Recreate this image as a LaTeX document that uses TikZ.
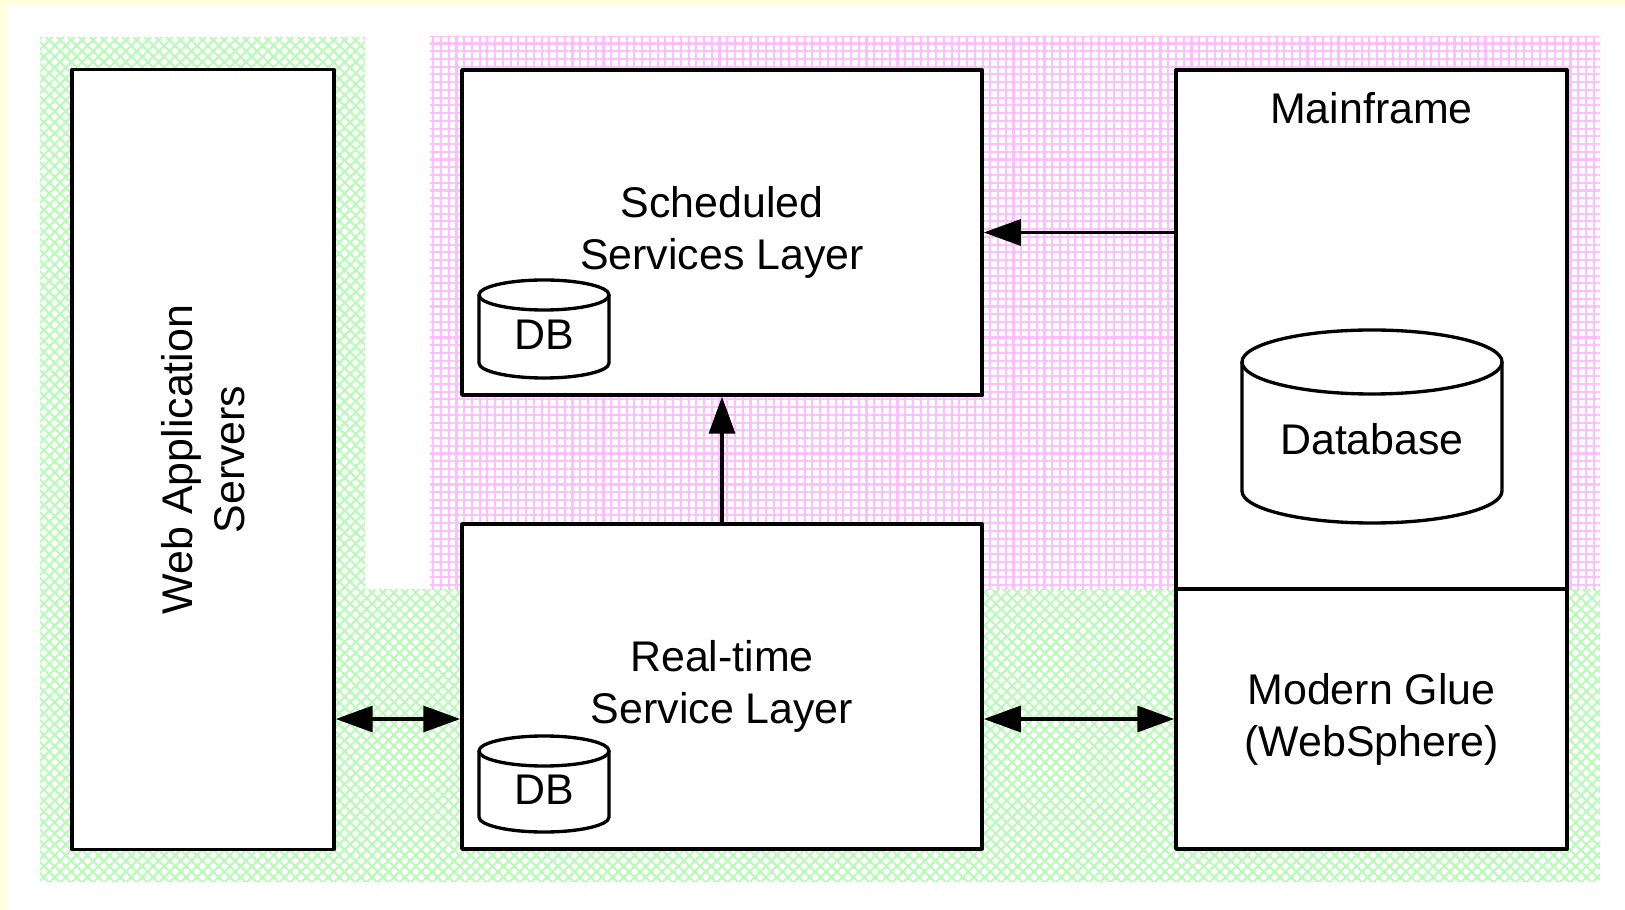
\documentclass[tikz,border=0pt]{standalone}
\usepackage{fontspec}
\setmainfont{Liberation Sans}
\usetikzlibrary{arrows.meta,patterns.meta,calc}
\definecolor{paleyellow}{RGB}{255,255,221}
\definecolor{hatchgreen}{RGB}{185,250,185}
\definecolor{gridpink}{RGB}{255,190,255}
\tikzset{
  tier/.style={draw,line width=0.95pt,fill=white,align=center,inner sep=0pt},
  link/.style={line width=0.9pt,-{Triangle[length=10.5pt,width=7.4pt]}},
  twoway/.style={line width=0.9pt,{Triangle[length=10.5pt,width=7.4pt]}-{Triangle[length=10.5pt,width=7.4pt]}},
}
\begin{document}
\begin{tikzpicture}[x=0.01cm,y=-0.01cm,line join=round,font=\fontsize{12.2}{14.8}\selectfont]
\useasboundingbox[fill=white] (0,0) rectangle (1625,910);
\fill[paleyellow] (0,0) rectangle (1625,5) (0,0) rectangle (8,910);
% zones
\path[pattern={Hatch[angle=45,distance=2.2pt,line width=0.6pt]},pattern color=hatchgreen]
(40,37)--(365,37)--(365,589)--(1600,589)--(1600,882)--(40,882)--cycle;
\path[pattern={Hatch[angle=0,distance=2.2pt,line width=0.6pt]},pattern color=gridpink]
(430,37) rectangle (1600,589);
% tiers
\node[tier,minimum width=2.62cm,minimum height=7.79cm] (web) at (203,459.5) {};
\node[rotate=90,align=center] (webtxt) at (web.center) {Web Application\\Servers};
\node[tier,minimum width=5.20cm,minimum height=3.25cm] (sched) at (722,232.5) {Scheduled\\Services Layer};
\node[tier,minimum width=5.20cm,minimum height=3.25cm] (rt) at (722,686.5) {Real-time\\Service Layer};
\node[tier,minimum width=3.91cm,minimum height=5.19cm] (main) at (1371.5,329.5) {};
\node (mftxt) at (1371.5,108) {Mainframe};
\node[tier,minimum width=3.91cm,minimum height=2.60cm] (glue) at (1371.5,719) {Modern Glue\\(WebSphere)};
% databases
\foreach \nm/\cx/\cy/\a/\h/\e/\dy/\txt in {dba/544/329/65/98/15/6/DB,dbb/544/784/65/96/15/6/DB,dbm/1372/426.5/130/193/32/13/Database}
{\filldraw[fill=white,line width=0.95pt]
 (\cx-\a,\cy-\h/2+\e)--(\cx-\a,\cy+\h/2-\e)
 arc[start angle=180,end angle=0,x radius=\a,y radius=\e]
 --(\cx+\a,\cy-\h/2+\e);
 \filldraw[fill=white,line width=0.95pt] (\cx,\cy-\h/2+\e) ellipse[x radius=\a,y radius=\e];
 \node (\nm) at (\cx,\cy+\dy) {\txt};}
% links
\draw[link] (main.west |- sched.east)--(sched.east);
\draw[link] (rt.north)--(sched.south);
\draw[twoway] (web.east |- glue.west)--(rt.west |- glue.west);
\draw[twoway] (rt.east |- glue.west)--(glue.west);
\end{tikzpicture}
\end{document}
